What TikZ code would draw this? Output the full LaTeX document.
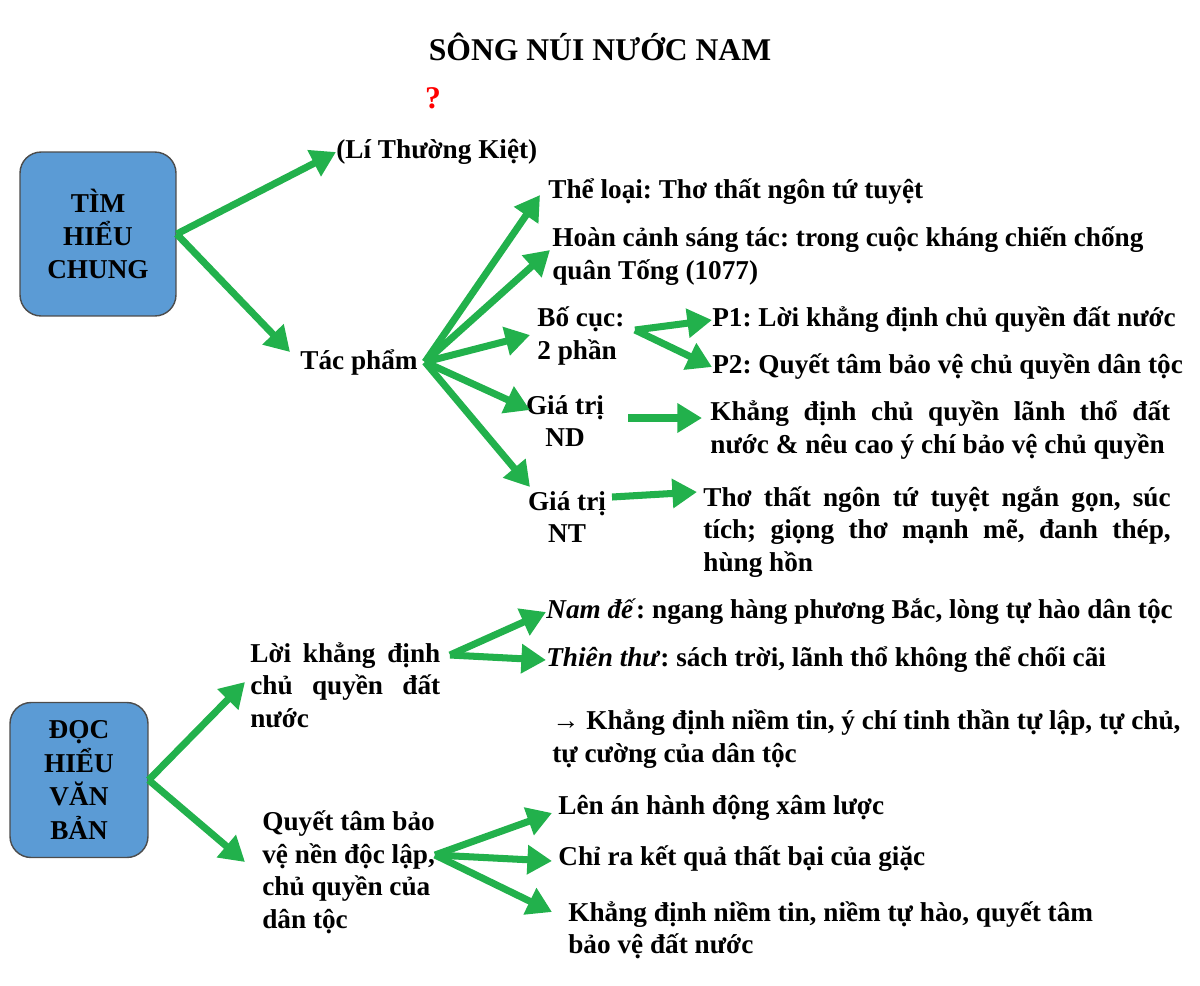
\documentclass[tikz,border=0pt]{standalone}
\usepackage{fontspec}
\setmainfont{Liberation Serif}
\usetikzlibrary{arrows.meta}
\definecolor{arrowgreen}{HTML}{22B14C}
\definecolor{boxblue}{HTML}{5B9BD5}
\frenchspacing
\tikzset{
  txt/.style={font=\bfseries\fontsize{15.5}{18.5}\selectfont, inner sep=0pt, align=left},
  blk/.style={txt, text width=#1, align=justify},
  topic/.style={draw=black!70, line width=0.8pt, fill=boxblue, rounded corners=12pt,
    font=\bfseries\fontsize{15.5}{19}\selectfont, align=center, inner sep=0pt},
  arr/.style={-{Triangle[length=14pt,width=16pt]}, line width=4pt, draw=arrowgreen},
}
\begin{document}
\begin{tikzpicture}[x=0.02cm,y=-0.02cm]
\useasboundingbox (0,0) rectangle (1200,985);

% TITLE
\node[txt, font=\bfseries\fontsize{18}{20}\selectfont] (title) at (600,47) {SÔNG NÚI NƯỚC NAM};
\node[txt, text=red, font=\bfseries\fontsize{18}{20}\selectfont] (q) at (433,98) {?};

% TIM HIEU CHUNG
\node[topic, minimum width=3.12cm, minimum height=3.28cm] (tim) at (98,234) {TÌM\\HIỂU\\CHUNG};
\node[txt, anchor=west] (tacgia) at (336,152) {(Lí Thường Kiệt)};
\node[txt, anchor=west] (tp) at (300,362) {Tác phẩm};
\draw[arr] (tim.east) -- (tacgia.west);
\draw[arr] (tim.east) -- (290,352) coordinate (tpin);

\node[txt, anchor=west] (theloai) at (548,192) {Thể loại: Thơ thất ngôn tứ tuyệt};
\node[txt, anchor=west] (hoancanh) at (552,256) {Hoàn cảnh sáng tác: trong cuộc kháng chiến chống\\quân Tống (1077)};
\node[txt, anchor=west] (bocuc) at (537,336) {Bố cục:\\2 phần};
\node[txt, align=center] (nd) at (565,421) {Giá trị\\ND};
\node[txt, align=center] (nt) at (567,517) {Giá trị\\NT};
\coordinate (tpout) at (425,362);
\draw[arr] (tpout) -- (540,195);
\draw[arr] (tpout) -- (550,250);
\draw[arr] (tpout) -- (530,335);
\draw[arr] (tpout) -- (530,410);
\draw[arr] (tpout) -- (530,487);

\node[txt, anchor=west] (p1) at (712,320) {P1: Lời khẳng định chủ quyền đất nước};
\node[txt, anchor=west] (p2) at (712,367) {P2: Quyết tâm bảo vệ chủ quyền dân tộc};
\draw[arr] (635,330) -- (p1.west);
\draw[arr] (635,330) -- (p2.west);
\node[blk=9.2cm, anchor=west] (ndtxt) at (710,430) {Khẳng định chủ quyền lãnh thổ đất nước \& nêu cao ý chí bảo vệ chủ quyền};
\draw[arr] (628,418) -- (702,418);
\node[blk=9.35cm, anchor=west] (nttxt) at (703,532) {Thơ thất ngôn tứ tuyệt ngắn gọn, súc tích; giọng thơ mạnh mẽ, đanh thép, hùng hồn};
\draw[arr] (612,497) -- (697,492);

% DOC HIEU VAN BAN
\node[topic, minimum width=2.76cm, minimum height=3.1cm] (doc) at (79,780) {ĐỌC\\HIỂU\\VĂN\\BẢN};
\node[blk=3.8cm, anchor=west] (loi) at (250,685) {Lời khẳng định chủ quyền đất nước};
\node[txt, anchor=west] (quyet) at (262,872) {Quyết tâm bảo\\vệ nền độc lập,\\chủ quyền của\\dân tộc};
\draw[arr] (doc.east) -- (245,682);
\draw[arr] (doc.east) -- (245,862);

\node[txt, anchor=west] (namde) at (546,612) {\textit{Nam đế}: ngang hàng phương Bắc, lòng tự hào dân tộc};
\node[txt, anchor=west] (thienthu) at (546,660) {\textit{Thiên thư}: sách trời, lãnh thổ không thể chối cãi};
\node[txt, anchor=west] (kd1) at (552,739) {→ Khẳng định niềm tin, ý chí tinh thần tự lập, tự chủ,\\tự cường của dân tộc};
\draw[arr] (450,655) -- (namde.west);
\draw[arr] (450,655) -- (thienthu.west);

\node[txt, anchor=west] (lenan) at (558,808) {Lên án hành động xâm lược};
\node[txt, anchor=west] (chira) at (558,859) {Chỉ ra kết quả thất bại của giặc};
\node[txt, anchor=west] (kd2) at (568,930) {Khẳng định niềm tin, niềm tự hào, quyết tâm\\bảo vệ đất nước};
\draw[arr] (435,855) -- (552,813);
\draw[arr] (435,855) -- (552,861);
\draw[arr] (435,855) -- (552,912);
\end{tikzpicture}
\end{document}
